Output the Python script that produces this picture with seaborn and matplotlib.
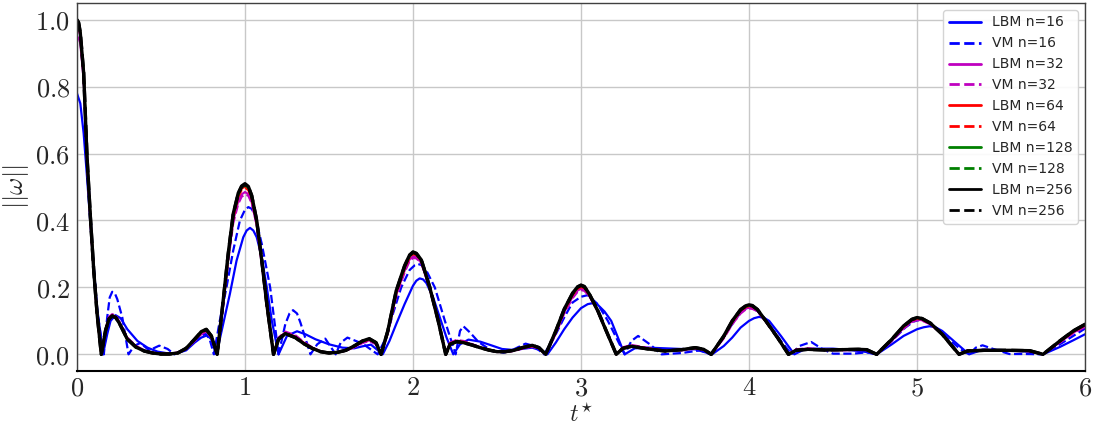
import matplotlib
matplotlib.use("Agg")
import matplotlib.pyplot as plt
from matplotlib.ticker import FuncFormatter
import seaborn as sns

# time samples shared by the n=32..256 runs (one row per hump)
t_ref = [
    0.00, 0.01, 0.02, 0.04, 0.06, 0.08, 0.10, 0.12, 0.145,
    0.17, 0.19, 0.21, 0.23, 0.25, 0.30, 0.35, 0.40, 0.45, 0.50, 0.55, 0.60, 0.65, 0.70, 0.74, 0.77, 0.80, 0.835,
    0.87, 0.90, 0.93, 0.96, 0.98, 1.00, 1.02, 1.04, 1.07, 1.10, 1.13, 1.17,
    1.20, 1.24, 1.30, 1.35, 1.40, 1.45, 1.50, 1.55, 1.60, 1.65, 1.70, 1.74, 1.78, 1.81,
    1.85, 1.90, 1.95, 1.98, 2.00, 2.02, 2.05, 2.10, 2.15, 2.195,
    2.22, 2.26, 2.30, 2.35, 2.40, 2.45, 2.50, 2.55, 2.60, 2.65, 2.71, 2.75, 2.79,
    2.85, 2.90, 2.95, 2.98, 3.00, 3.02, 3.05, 3.10, 3.15, 3.21,
    3.25, 3.30, 3.40, 3.50, 3.60, 3.68, 3.73, 3.775,
    3.85, 3.90, 3.95, 3.98, 4.00, 4.02, 4.05, 4.10, 4.17, 4.235,
    4.28, 4.35, 4.45, 4.55, 4.65, 4.70, 4.76,
    4.85, 4.92, 4.97, 5.00, 5.03, 5.08, 5.15, 5.25,
    5.30, 5.40, 5.55, 5.67, 5.75, 5.85, 5.93, 6.00]

w_lbm256 = [
    1.000, 0.990, 0.960, 0.840, 0.590, 0.410, 0.250, 0.120, 0.000,
    0.070, 0.105, 0.114, 0.110, 0.095, 0.045, 0.022, 0.010, 0.004, 0.001, 0.001, 0.004, 0.018, 0.045, 0.068, 0.075, 0.055, 0.000,
    0.160, 0.300, 0.420, 0.482, 0.503, 0.510, 0.502, 0.475, 0.400, 0.280, 0.150, 0.000,
    0.045, 0.062, 0.050, 0.032, 0.018, 0.008, 0.004, 0.006, 0.012, 0.025, 0.040, 0.047, 0.035, 0.000,
    0.070, 0.190, 0.265, 0.297, 0.306, 0.302, 0.282, 0.200, 0.100, 0.000,
    0.030, 0.038, 0.035, 0.028, 0.020, 0.013, 0.008, 0.008, 0.012, 0.020, 0.027, 0.020, 0.000,
    0.070, 0.135, 0.183, 0.202, 0.207, 0.203, 0.180, 0.130, 0.070, 0.000,
    0.018, 0.024, 0.016, 0.010, 0.014, 0.020, 0.015, 0.000,
    0.055, 0.100, 0.134, 0.145, 0.148, 0.146, 0.134, 0.100, 0.050, 0.000,
    0.012, 0.015, 0.013, 0.014, 0.015, 0.014, 0.000,
    0.045, 0.085, 0.105, 0.110, 0.107, 0.093, 0.060, 0.000,
    0.010, 0.012, 0.012, 0.011, 0.000, 0.040, 0.070, 0.090]

w_vm256 = [
    1.000, 0.992, 0.962, 0.842, 0.592, 0.411, 0.251, 0.121, 0.000,
    0.071, 0.106, 0.115, 0.111, 0.096, 0.046, 0.022, 0.010, 0.004, 0.001, 0.001, 0.004, 0.018, 0.045, 0.067, 0.074, 0.055, 0.000,
    0.158, 0.298, 0.418, 0.480, 0.501, 0.508, 0.501, 0.474, 0.400, 0.281, 0.151, 0.000,
    0.046, 0.062, 0.050, 0.032, 0.018, 0.008, 0.004, 0.006, 0.012, 0.025, 0.040, 0.046, 0.035, 0.000,
    0.069, 0.188, 0.263, 0.296, 0.305, 0.301, 0.282, 0.201, 0.101, 0.000,
    0.030, 0.038, 0.035, 0.028, 0.020, 0.013, 0.008, 0.008, 0.012, 0.020, 0.027, 0.020, 0.000,
    0.069, 0.134, 0.182, 0.201, 0.206, 0.202, 0.180, 0.131, 0.071, 0.000,
    0.018, 0.024, 0.016, 0.010, 0.014, 0.020, 0.015, 0.000,
    0.054, 0.099, 0.133, 0.144, 0.147, 0.145, 0.134, 0.100, 0.050, 0.000,
    0.012, 0.015, 0.013, 0.014, 0.015, 0.014, 0.000,
    0.045, 0.084, 0.104, 0.109, 0.107, 0.093, 0.060, 0.000,
    0.010, 0.012, 0.012, 0.011, 0.000, 0.040, 0.070, 0.089]

w_lbm128 = [
    1.000, 0.990, 0.960, 0.840, 0.590, 0.410, 0.250, 0.120, 0.000,
    0.070, 0.105, 0.114, 0.110, 0.095, 0.045, 0.022, 0.010, 0.004, 0.001, 0.001, 0.004, 0.018, 0.045, 0.067, 0.074, 0.055, 0.000,
    0.159, 0.298, 0.418, 0.480, 0.501, 0.508, 0.500, 0.473, 0.399, 0.280, 0.150, 0.000,
    0.045, 0.062, 0.050, 0.032, 0.018, 0.008, 0.004, 0.006, 0.012, 0.025, 0.040, 0.046, 0.035, 0.000,
    0.070, 0.189, 0.262, 0.296, 0.305, 0.301, 0.281, 0.200, 0.100, 0.000,
    0.030, 0.038, 0.035, 0.028, 0.020, 0.013, 0.008, 0.008, 0.012, 0.020, 0.027, 0.020, 0.000,
    0.070, 0.134, 0.182, 0.201, 0.206, 0.202, 0.180, 0.130, 0.070, 0.000,
    0.018, 0.024, 0.016, 0.010, 0.014, 0.020, 0.015, 0.000,
    0.055, 0.099, 0.133, 0.144, 0.147, 0.145, 0.135, 0.100, 0.050, 0.000,
    0.012, 0.015, 0.013, 0.014, 0.015, 0.014, 0.000,
    0.045, 0.084, 0.105, 0.110, 0.107, 0.093, 0.060, 0.000,
    0.010, 0.012, 0.012, 0.011, 0.000, 0.040, 0.070, 0.090]

w_vm128 = [
    1.000, 0.991, 0.962, 0.841, 0.591, 0.410, 0.250, 0.120, 0.000,
    0.071, 0.106, 0.115, 0.111, 0.096, 0.046, 0.022, 0.010, 0.004, 0.001, 0.001, 0.004, 0.018, 0.044, 0.066, 0.073, 0.054, 0.000,
    0.157, 0.296, 0.415, 0.477, 0.498, 0.505, 0.498, 0.472, 0.400, 0.281, 0.151, 0.000,
    0.046, 0.063, 0.051, 0.032, 0.018, 0.008, 0.004, 0.006, 0.012, 0.025, 0.039, 0.046, 0.034, 0.000,
    0.069, 0.187, 0.261, 0.294, 0.303, 0.300, 0.281, 0.201, 0.101, 0.000,
    0.031, 0.039, 0.035, 0.028, 0.020, 0.013, 0.008, 0.008, 0.012, 0.020, 0.026, 0.020, 0.000,
    0.069, 0.133, 0.181, 0.200, 0.205, 0.202, 0.180, 0.131, 0.071, 0.000,
    0.018, 0.024, 0.016, 0.010, 0.014, 0.019, 0.015, 0.000,
    0.054, 0.098, 0.132, 0.143, 0.146, 0.144, 0.134, 0.100, 0.050, 0.000,
    0.012, 0.015, 0.013, 0.014, 0.015, 0.014, 0.000,
    0.044, 0.084, 0.104, 0.109, 0.107, 0.093, 0.060, 0.000,
    0.010, 0.012, 0.012, 0.011, 0.000, 0.039, 0.069, 0.089]

w_lbm64 = [
    0.990, 0.982, 0.955, 0.835, 0.588, 0.408, 0.249, 0.119, 0.000,
    0.071, 0.106, 0.115, 0.111, 0.096, 0.046, 0.023, 0.010, 0.004, 0.001, 0.001, 0.004, 0.018, 0.044, 0.066, 0.073, 0.054, 0.000,
    0.156, 0.295, 0.412, 0.474, 0.495, 0.502, 0.494, 0.468, 0.396, 0.278, 0.148, 0.000,
    0.046, 0.063, 0.051, 0.033, 0.019, 0.008, 0.004, 0.006, 0.012, 0.024, 0.039, 0.045, 0.034, 0.000,
    0.068, 0.185, 0.258, 0.292, 0.301, 0.298, 0.279, 0.199, 0.100, 0.000,
    0.031, 0.039, 0.036, 0.029, 0.020, 0.013, 0.008, 0.008, 0.012, 0.019, 0.026, 0.019, 0.000,
    0.068, 0.132, 0.179, 0.198, 0.203, 0.199, 0.178, 0.129, 0.070, 0.000,
    0.019, 0.025, 0.017, 0.010, 0.014, 0.019, 0.015, 0.000,
    0.053, 0.097, 0.131, 0.142, 0.145, 0.143, 0.133, 0.099, 0.050, 0.000,
    0.013, 0.016, 0.013, 0.014, 0.015, 0.014, 0.000,
    0.044, 0.083, 0.103, 0.108, 0.105, 0.092, 0.060, 0.000,
    0.010, 0.012, 0.012, 0.011, 0.000, 0.039, 0.068, 0.088]

w_vm64 = [
    1.000, 0.990, 0.962, 0.840, 0.590, 0.410, 0.250, 0.120, 0.000,
    0.072, 0.107, 0.116, 0.112, 0.097, 0.047, 0.023, 0.010, 0.004, 0.001, 0.001, 0.004, 0.017, 0.043, 0.065, 0.072, 0.053, 0.000,
    0.154, 0.292, 0.408, 0.470, 0.491, 0.498, 0.491, 0.466, 0.396, 0.279, 0.150, 0.000,
    0.047, 0.064, 0.052, 0.034, 0.019, 0.008, 0.004, 0.006, 0.012, 0.024, 0.038, 0.044, 0.033, 0.000,
    0.067, 0.183, 0.256, 0.290, 0.299, 0.297, 0.279, 0.200, 0.101, 0.000,
    0.032, 0.040, 0.037, 0.029, 0.020, 0.013, 0.008, 0.008, 0.011, 0.019, 0.025, 0.019, 0.000,
    0.067, 0.130, 0.177, 0.196, 0.201, 0.198, 0.178, 0.130, 0.071, 0.000,
    0.019, 0.025, 0.017, 0.010, 0.014, 0.019, 0.014, 0.000,
    0.052, 0.096, 0.130, 0.141, 0.144, 0.142, 0.133, 0.099, 0.050, 0.000,
    0.013, 0.016, 0.013, 0.013, 0.014, 0.013, 0.000,
    0.043, 0.082, 0.102, 0.107, 0.105, 0.092, 0.060, 0.000,
    0.010, 0.012, 0.012, 0.010, 0.000, 0.038, 0.067, 0.087]

w_lbm32 = [
    0.950, 0.945, 0.930, 0.820, 0.580, 0.400, 0.245, 0.118, 0.000,
    0.072, 0.108, 0.117, 0.113, 0.098, 0.048, 0.024, 0.011, 0.005, 0.002, 0.002, 0.005, 0.017, 0.042, 0.063, 0.070, 0.052, 0.000,
    0.150, 0.285, 0.400, 0.458, 0.478, 0.485, 0.479, 0.455, 0.385, 0.270, 0.145, 0.000,
    0.048, 0.065, 0.054, 0.035, 0.020, 0.009, 0.004, 0.006, 0.011, 0.022, 0.036, 0.042, 0.032, 0.000,
    0.065, 0.178, 0.250, 0.284, 0.293, 0.291, 0.273, 0.196, 0.100, 0.000,
    0.033, 0.041, 0.038, 0.030, 0.021, 0.014, 0.008, 0.008, 0.011, 0.018, 0.024, 0.018, 0.000,
    0.064, 0.126, 0.172, 0.191, 0.196, 0.193, 0.174, 0.128, 0.070, 0.000,
    0.020, 0.026, 0.018, 0.011, 0.013, 0.018, 0.014, 0.000,
    0.050, 0.093, 0.125, 0.137, 0.140, 0.138, 0.130, 0.098, 0.050, 0.000,
    0.014, 0.017, 0.014, 0.013, 0.014, 0.013, 0.000,
    0.041, 0.079, 0.099, 0.104, 0.102, 0.090, 0.060, 0.000,
    0.011, 0.013, 0.012, 0.010, 0.000, 0.036, 0.065, 0.084]

w_vm32 = [
    0.980, 0.972, 0.950, 0.830, 0.585, 0.405, 0.248, 0.120, 0.000,
    0.075, 0.112, 0.120, 0.116, 0.100, 0.050, 0.026, 0.012, 0.005, 0.002, 0.002, 0.005, 0.016, 0.040, 0.060, 0.068, 0.050, 0.000,
    0.145, 0.278, 0.392, 0.450, 0.471, 0.478, 0.474, 0.452, 0.388, 0.275, 0.150, 0.000,
    0.050, 0.068, 0.057, 0.037, 0.021, 0.009, 0.004, 0.006, 0.011, 0.021, 0.034, 0.040, 0.030, 0.000,
    0.062, 0.172, 0.245, 0.279, 0.288, 0.287, 0.272, 0.198, 0.103, 0.000,
    0.035, 0.043, 0.040, 0.031, 0.021, 0.013, 0.007, 0.007, 0.010, 0.017, 0.023, 0.017, 0.000,
    0.062, 0.122, 0.168, 0.187, 0.192, 0.190, 0.174, 0.130, 0.072, 0.000,
    0.021, 0.028, 0.019, 0.010, 0.012, 0.017, 0.013, 0.000,
    0.048, 0.090, 0.122, 0.134, 0.137, 0.136, 0.129, 0.098, 0.051, 0.000,
    0.015, 0.018, 0.013, 0.012, 0.013, 0.012, 0.000,
    0.040, 0.077, 0.097, 0.102, 0.101, 0.090, 0.061, 0.000,
    0.012, 0.013, 0.011, 0.009, 0.000, 0.035, 0.063, 0.082]

# n=16 runs have their own zero crossings
t_lbm16 = [
    0.00, 0.02, 0.04, 0.06, 0.08, 0.10, 0.12, 0.155,
    0.18, 0.20, 0.23, 0.26, 0.30, 0.36, 0.42, 0.48, 0.54, 0.60, 0.65, 0.70, 0.74, 0.775, 0.80, 0.83,
    0.87, 0.91, 0.95, 0.99, 1.01, 1.03, 1.05, 1.07, 1.10, 1.13, 1.16, 1.20,
    1.25, 1.31, 1.36, 1.42, 1.50, 1.58, 1.65, 1.70, 1.75, 1.82,
    1.86, 1.90, 1.95, 2.00, 2.02, 2.04, 2.06, 2.08, 2.12, 2.16, 2.20, 2.24,
    2.28, 2.33, 2.40, 2.46, 2.53, 2.60, 2.66, 2.71, 2.76, 2.80,
    2.85, 2.90, 2.95, 3.00, 3.04, 3.07, 3.10, 3.14, 3.18, 3.26,
    3.32, 3.40, 3.50, 3.60, 3.68, 3.78,
    3.85, 3.90, 3.95, 4.00, 4.03, 4.06, 4.09, 4.12, 4.19, 4.27,
    4.33, 4.40, 4.50, 4.60, 4.70, 4.76,
    4.85, 4.92, 5.00, 5.04, 5.075, 5.11, 5.15, 5.23, 5.31,
    5.39, 5.50, 5.60, 5.69, 5.75, 5.85, 5.93, 6.00]

w_lbm16 = [
    0.780, 0.750, 0.660, 0.530, 0.390, 0.260, 0.140, 0.000,
    0.060, 0.100, 0.117, 0.108, 0.075, 0.040, 0.020, 0.008, 0.003, 0.004, 0.012, 0.035, 0.050, 0.057, 0.045, 0.000,
    0.090, 0.180, 0.280, 0.350, 0.370, 0.378, 0.370, 0.350, 0.290, 0.200, 0.100, 0.000,
    0.055, 0.069, 0.060, 0.045, 0.030, 0.020, 0.018, 0.024, 0.029, 0.000,
    0.040, 0.090, 0.150, 0.205, 0.220, 0.227, 0.224, 0.213, 0.170, 0.110, 0.050, 0.000,
    0.030, 0.044, 0.038, 0.028, 0.016, 0.013, 0.017, 0.020, 0.012, 0.000,
    0.035, 0.075, 0.110, 0.138, 0.150, 0.153, 0.148, 0.128, 0.100, 0.000,
    0.018, 0.020, 0.018, 0.016, 0.015, 0.000,
    0.025, 0.050, 0.080, 0.100, 0.108, 0.112, 0.109, 0.100, 0.055, 0.000,
    0.015, 0.017, 0.017, 0.013, 0.007, 0.000,
    0.030, 0.055, 0.075, 0.081, 0.084, 0.081, 0.070, 0.035, 0.000,
    0.014, 0.013, 0.010, 0.007, 0.000, 0.022, 0.042, 0.060]

t_vm16 = [
    0.00, 0.02, 0.04, 0.06, 0.08, 0.10, 0.12, 0.16,
    0.18, 0.195, 0.21, 0.225, 0.24, 0.27, 0.307, 0.34, 0.377, 0.43, 0.49, 0.54, 0.58, 0.65, 0.70, 0.765, 0.79, 0.815,
    0.85, 0.89, 0.93, 0.97, 1.00, 1.02, 1.04, 1.06, 1.10, 1.15, 1.20,
    1.24, 1.265, 1.286, 1.31, 1.33, 1.39, 1.43, 1.478, 1.54,
    1.57, 1.61, 1.70, 1.79,
    1.84, 1.88, 1.93, 1.98, 2.01, 2.03, 2.05, 2.08, 2.13, 2.19, 2.254,
    2.28, 2.30, 2.34, 2.39, 2.47, 2.54, 2.60, 2.67, 2.72, 2.78,
    2.84, 2.90, 2.95, 3.00, 3.04, 3.10, 3.16, 3.21, 3.26,
    3.30, 3.34, 3.41, 3.48, 3.60, 3.71, 3.77,
    3.84, 3.90, 3.95, 3.98, 4.00, 4.02, 4.05, 4.12, 4.19, 4.254,
    4.30, 4.37, 4.44, 4.50, 4.62, 4.70, 4.76,
    4.85, 4.93, 4.98, 5.02, 5.06, 5.10, 5.20, 5.26, 5.31,
    5.35, 5.39, 5.46, 5.55, 5.65, 5.75, 5.85, 5.93, 6.00]

w_vm16 = [
    0.990, 0.950, 0.830, 0.600, 0.420, 0.260, 0.130, 0.000,
    0.110, 0.170, 0.187, 0.183, 0.165, 0.110, 0.000, 0.025, 0.034, 0.012, 0.026, 0.016, 0.000, 0.018, 0.042, 0.062, 0.045, 0.000,
    0.100, 0.200, 0.310, 0.400, 0.432, 0.440, 0.435, 0.415, 0.330, 0.200, 0.000,
    0.090, 0.122, 0.132, 0.122, 0.095, 0.000, 0.030, 0.047, 0.000,
    0.035, 0.050, 0.032, 0.000,
    0.050, 0.120, 0.200, 0.252, 0.266, 0.270, 0.267, 0.250, 0.200, 0.100, 0.000,
    0.070, 0.084, 0.065, 0.037, 0.010, 0.005, 0.015, 0.032, 0.025, 0.000,
    0.050, 0.110, 0.155, 0.172, 0.177, 0.150, 0.100, 0.050, 0.000,
    0.040, 0.055, 0.030, 0.000, 0.004, 0.012, 0.000,
    0.045, 0.090, 0.125, 0.137, 0.140, 0.138, 0.130, 0.090, 0.040, 0.000,
    0.025, 0.037, 0.015, 0.002, 0.002, 0.006, 0.000,
    0.040, 0.080, 0.098, 0.104, 0.099, 0.085, 0.040, 0.015, 0.000,
    0.020, 0.027, 0.015, 0.001, 0.001, 0.000, 0.030, 0.055, 0.077]

sns.set_style("whitegrid")
plt.rcParams["mathtext.fontset"] = "cm"
plt.rcParams["font.family"] = ["DejaVu Sans"]

fig, ax = plt.subplots(figsize=(10.93, 4.28), dpi=100)
fig.subplots_adjust(left=0.0704, right=0.9927, top=0.993, bottom=0.133)

series = [
    (t_lbm16, w_lbm16, "b", "-", 1.6, "LBM n=16"),
    (t_vm16, w_vm16, "b", "--", 1.6, "VM n=16"),
    (t_ref, w_lbm32, "m", "-", 1.6, "LBM n=32"),
    (t_ref, w_vm32, "m", "--", 1.6, "VM n=32"),
    (t_ref, w_lbm64, "r", "-", 1.6, "LBM n=64"),
    (t_ref, w_vm64, "r", "--", 1.6, "VM n=64"),
    (t_ref, w_lbm128, "g", "-", 1.6, "LBM n=128"),
    (t_ref, w_vm128, "g", "--", 1.6, "VM n=128"),
    (t_ref, w_lbm256, "k", "-", 2.4, "LBM n=256"),
    (t_ref, w_vm256, "k", "--", 2.4, "VM n=256"),
]
for t, w, c, ls, lw, lab in series:
    sns.lineplot(x=t, y=w, color=c, linestyle=ls, linewidth=lw, label=lab,
                 ax=ax, sort=False, estimator=None)

ax.set_xlim(0, 6)
ax.set_ylim(-0.05, 1.05)
ax.set_xticks([0, 1, 2, 3, 4, 5, 6])
ax.set_yticks([0.0, 0.2, 0.4, 0.6, 0.8, 1.0])
ax.xaxis.set_major_formatter(FuncFormatter(lambda v, p: r"$%d$" % v))
ax.yaxis.set_major_formatter(FuncFormatter(lambda v, p: r"$%.1f$" % v))
ax.tick_params(axis="both", labelsize=19, length=0)
ax.tick_params(axis="x", pad=3)
ax.tick_params(axis="y", pad=5)
ax.set_xlabel(r"$t^{\star}$", fontsize=17)
ax.xaxis.set_label_coords(0.5, -0.088)
ax.set_ylabel(r"$||\omega||$", fontsize=19, labelpad=3)

ax.grid(True, color="#c8c8c8", linewidth=1.0)
for side in ["left", "top", "right"]:
    ax.spines[side].set_color("#404040")
    ax.spines[side].set_linewidth(1.0)
ax.spines["bottom"].set_color("black")
ax.spines["bottom"].set_linewidth(1.5)

leg = ax.legend(loc="upper right", fontsize=10, frameon=True, framealpha=0.9,
                edgecolor="#d0d0d0", handlelength=2.3)
for line in leg.get_lines():
    line.set_linewidth(2.0)

fig.savefig("out.png", dpi=100)
